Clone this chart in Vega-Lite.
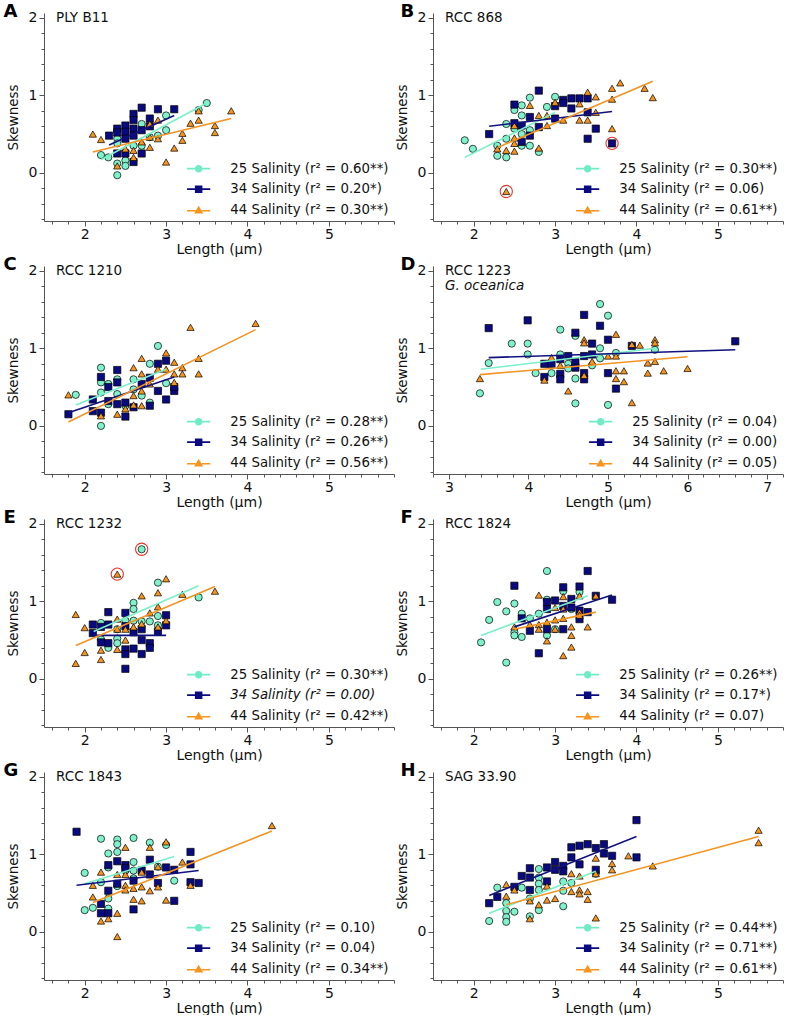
{
"$schema": "https://vega.github.io/schema/vega-lite/v6.json",
"padding": {"left": 3, "top": 2, "right": 0, "bottom": 0},
"config": {
 "font": "DejaVu Sans",
 "view": {"stroke": null},
 "axis": {"grid": false, "domainColor": "#555", "tickColor": "#555", "labelColor": "#111", "titleColor": "#111", "labelFontSize": 14, "titleFontSize": 14, "titleFontWeight": "normal"},
 "title": {"color": "#111"}
},
"datasets": {
"pts": [
{"p":"A","s":"25","x":2.2,"y":0.23},{"p":"A","s":"25","x":2.29,"y":0.2},{"p":"A","s":"25","x":2.4,"y":0.44},{"p":"A","s":"25","x":2.4,"y":0.38},{"p":"A","s":"25","x":2.4,"y":0.12},{"p":"A","s":"25","x":2.4,"y":-0.03},{"p":"A","s":"25","x":2.5,"y":0.16},{"p":"A","s":"25","x":2.5,"y":0.09},{"p":"A","s":"25","x":2.6,"y":0.35},{"p":"A","s":"25","x":2.7,"y":0.63},{"p":"A","s":"25","x":2.7,"y":0.35},{"p":"A","s":"25","x":2.8,"y":0.46},{"p":"A","s":"25","x":2.9,"y":0.48},{"p":"A","s":"25","x":3.0,"y":0.74},{"p":"A","s":"25","x":3.0,"y":0.55},{"p":"A","s":"25","x":3.4,"y":0.81},{"p":"A","s":"25","x":3.5,"y":0.9},
{"p":"A","s":"34","x":2.3,"y":0.48},{"p":"A","s":"34","x":2.4,"y":0.57},{"p":"A","s":"34","x":2.4,"y":0.52},{"p":"A","s":"34","x":2.4,"y":0.25},{"p":"A","s":"34","x":2.5,"y":0.61},{"p":"A","s":"34","x":2.5,"y":0.53},{"p":"A","s":"34","x":2.5,"y":0.44},{"p":"A","s":"34","x":2.5,"y":0.25},{"p":"A","s":"34","x":2.6,"y":0.76},{"p":"A","s":"34","x":2.6,"y":0.68},{"p":"A","s":"34","x":2.6,"y":0.57},{"p":"A","s":"34","x":2.6,"y":0.48},{"p":"A","s":"34","x":2.6,"y":0.14},{"p":"A","s":"34","x":2.7,"y":0.84},{"p":"A","s":"34","x":2.7,"y":0.55},{"p":"A","s":"34","x":2.7,"y":0.25},{"p":"A","s":"34","x":2.8,"y":0.7},{"p":"A","s":"34","x":2.8,"y":0.6},{"p":"A","s":"34","x":2.9,"y":0.82},{"p":"A","s":"34","x":3.1,"y":0.82},
{"p":"A","s":"44","x":2.1,"y":0.5},{"p":"A","s":"44","x":2.2,"y":0.43},{"p":"A","s":"44","x":2.4,"y":0.09},{"p":"A","s":"44","x":2.5,"y":0.31},{"p":"A","s":"44","x":2.6,"y":0.29},{"p":"A","s":"44","x":2.6,"y":0.2},{"p":"A","s":"44","x":2.7,"y":0.4},{"p":"A","s":"44","x":2.8,"y":0.63},{"p":"A","s":"44","x":2.8,"y":0.46},{"p":"A","s":"44","x":2.8,"y":0.33},{"p":"A","s":"44","x":2.9,"y":0.68},{"p":"A","s":"44","x":2.9,"y":0.44},{"p":"A","s":"44","x":3.0,"y":0.14},{"p":"A","s":"44","x":3.1,"y":0.32},{"p":"A","s":"44","x":3.2,"y":0.51},{"p":"A","s":"44","x":3.2,"y":0.42},{"p":"A","s":"44","x":3.3,"y":0.64},{"p":"A","s":"44","x":3.4,"y":0.68},{"p":"A","s":"44","x":3.4,"y":0.8},{"p":"A","s":"44","x":3.6,"y":0.61},{"p":"A","s":"44","x":3.6,"y":0.52},{"p":"A","s":"44","x":3.8,"y":0.8},
{"p":"B","s":"25","x":1.89,"y":0.42},{"p":"B","s":"25","x":1.99,"y":0.31},{"p":"B","s":"25","x":2.29,"y":0.35},{"p":"B","s":"25","x":2.29,"y":0.22},{"p":"B","s":"25","x":2.4,"y":0.2},{"p":"B","s":"25","x":2.4,"y":0.63},{"p":"B","s":"25","x":2.4,"y":0.44},{"p":"B","s":"25","x":2.5,"y":0.81},{"p":"B","s":"25","x":2.5,"y":0.57},{"p":"B","s":"25","x":2.59,"y":0.87},{"p":"B","s":"25","x":2.59,"y":0.74},{"p":"B","s":"25","x":2.59,"y":0.5},{"p":"B","s":"25","x":2.59,"y":0.35},{"p":"B","s":"25","x":2.69,"y":0.97},{"p":"B","s":"25","x":2.69,"y":0.55},{"p":"B","s":"25","x":2.69,"y":0.35},{"p":"B","s":"25","x":2.8,"y":0.27},{"p":"B","s":"25","x":2.9,"y":0.85},{"p":"B","s":"25","x":3.0,"y":0.98},
{"p":"B","s":"34","x":2.19,"y":0.5},{"p":"B","s":"34","x":2.5,"y":0.88},{"p":"B","s":"34","x":2.5,"y":0.64},{"p":"B","s":"34","x":2.59,"y":0.61},{"p":"B","s":"34","x":2.59,"y":0.4},{"p":"B","s":"34","x":2.69,"y":0.72},{"p":"B","s":"34","x":2.69,"y":0.48},{"p":"B","s":"34","x":2.8,"y":1.06},{"p":"B","s":"34","x":2.8,"y":0.59},{"p":"B","s":"34","x":3.0,"y":0.7},{"p":"B","s":"34","x":3.0,"y":0.86},{"p":"B","s":"34","x":3.1,"y":0.94},{"p":"B","s":"34","x":3.1,"y":0.9},{"p":"B","s":"34","x":3.2,"y":0.96},{"p":"B","s":"34","x":3.2,"y":0.83},{"p":"B","s":"34","x":3.3,"y":0.96},{"p":"B","s":"34","x":3.4,"y":0.96},{"p":"B","s":"34","x":3.4,"y":0.78},{"p":"B","s":"34","x":3.4,"y":0.44},{"p":"B","s":"34","x":3.5,"y":0.57},{"p":"B","s":"34","x":3.7,"y":0.38},
{"p":"B","s":"44","x":2.29,"y":0.31},{"p":"B","s":"44","x":2.4,"y":0.29},{"p":"B","s":"44","x":2.4,"y":-0.24},{"p":"B","s":"44","x":2.5,"y":0.61},{"p":"B","s":"44","x":2.5,"y":0.45},{"p":"B","s":"44","x":2.5,"y":0.38},{"p":"B","s":"44","x":2.5,"y":0.28},{"p":"B","s":"44","x":2.69,"y":0.87},{"p":"B","s":"44","x":2.8,"y":0.74},{"p":"B","s":"44","x":2.8,"y":0.32},{"p":"B","s":"44","x":2.9,"y":0.74},{"p":"B","s":"44","x":2.9,"y":0.61},{"p":"B","s":"44","x":3.0,"y":0.91},{"p":"B","s":"44","x":3.1,"y":0.68},{"p":"B","s":"44","x":3.3,"y":0.89},{"p":"B","s":"44","x":3.3,"y":0.68},{"p":"B","s":"44","x":3.4,"y":1.04},{"p":"B","s":"44","x":3.4,"y":0.68},{"p":"B","s":"44","x":3.5,"y":0.98},{"p":"B","s":"44","x":3.5,"y":0.78},{"p":"B","s":"44","x":3.7,"y":1.09},{"p":"B","s":"44","x":3.7,"y":0.95},{"p":"B","s":"44","x":3.7,"y":0.57},{"p":"B","s":"44","x":3.8,"y":1.16},{"p":"B","s":"44","x":4.1,"y":1.09},{"p":"B","s":"44","x":4.2,"y":0.97},
{"p":"C","s":"25","x":1.89,"y":0.4},{"p":"C","s":"25","x":2.2,"y":0.75},{"p":"C","s":"25","x":2.2,"y":0.56},{"p":"C","s":"25","x":2.2,"y":0.43},{"p":"C","s":"25","x":2.2,"y":0.0},{"p":"C","s":"25","x":2.29,"y":0.54},{"p":"C","s":"25","x":2.29,"y":0.28},{"p":"C","s":"25","x":2.4,"y":0.6},{"p":"C","s":"25","x":2.4,"y":0.41},{"p":"C","s":"25","x":2.5,"y":0.26},{"p":"C","s":"25","x":2.6,"y":0.6},{"p":"C","s":"25","x":2.6,"y":0.47},{"p":"C","s":"25","x":2.7,"y":0.39},{"p":"C","s":"25","x":2.8,"y":0.8},{"p":"C","s":"25","x":2.8,"y":0.3},{"p":"C","s":"25","x":2.9,"y":1.03},{"p":"C","s":"25","x":3.0,"y":0.55},
{"p":"C","s":"34","x":1.8,"y":0.15},{"p":"C","s":"34","x":2.1,"y":0.34},{"p":"C","s":"34","x":2.1,"y":0.19},{"p":"C","s":"34","x":2.2,"y":0.63},{"p":"C","s":"34","x":2.2,"y":0.17},{"p":"C","s":"34","x":2.29,"y":0.5},{"p":"C","s":"34","x":2.29,"y":0.32},{"p":"C","s":"34","x":2.4,"y":0.72},{"p":"C","s":"34","x":2.4,"y":0.56},{"p":"C","s":"34","x":2.4,"y":0.28},{"p":"C","s":"34","x":2.5,"y":0.3},{"p":"C","s":"34","x":2.5,"y":0.12},{"p":"C","s":"34","x":2.6,"y":0.24},{"p":"C","s":"34","x":2.7,"y":0.54},{"p":"C","s":"34","x":2.8,"y":0.62},{"p":"C","s":"34","x":2.8,"y":0.26},{"p":"C","s":"34","x":2.9,"y":0.8},{"p":"C","s":"34","x":2.9,"y":0.45},{"p":"C","s":"34","x":3.0,"y":0.84},{"p":"C","s":"34","x":3.0,"y":0.34},{"p":"C","s":"34","x":3.1,"y":0.45},{"p":"C","s":"34","x":3.1,"y":0.5},
{"p":"C","s":"44","x":1.8,"y":0.4},{"p":"C","s":"44","x":2.2,"y":0.13},{"p":"C","s":"44","x":2.4,"y":0.15},{"p":"C","s":"44","x":2.5,"y":0.22},{"p":"C","s":"44","x":2.6,"y":0.75},{"p":"C","s":"44","x":2.6,"y":0.39},{"p":"C","s":"44","x":2.6,"y":0.27},{"p":"C","s":"44","x":2.7,"y":0.87},{"p":"C","s":"44","x":2.7,"y":0.67},{"p":"C","s":"44","x":2.7,"y":0.45},{"p":"C","s":"44","x":2.7,"y":0.26},{"p":"C","s":"44","x":2.8,"y":0.54},{"p":"C","s":"44","x":2.9,"y":0.73},{"p":"C","s":"44","x":3.0,"y":0.94},{"p":"C","s":"44","x":3.0,"y":0.73},{"p":"C","s":"44","x":3.1,"y":0.82},{"p":"C","s":"44","x":3.1,"y":0.67},{"p":"C","s":"44","x":3.1,"y":0.56},{"p":"C","s":"44","x":3.2,"y":0.75},{"p":"C","s":"44","x":3.2,"y":0.67},{"p":"C","s":"44","x":3.3,"y":1.27},{"p":"C","s":"44","x":3.4,"y":0.87},{"p":"C","s":"44","x":3.4,"y":0.67},{"p":"C","s":"44","x":4.1,"y":1.32},
{"p":"D","s":"25","x":3.39,"y":0.42},{"p":"D","s":"25","x":3.5,"y":0.81},{"p":"D","s":"25","x":3.79,"y":1.06},{"p":"D","s":"25","x":3.99,"y":1.06},{"p":"D","s":"25","x":3.99,"y":0.92},{"p":"D","s":"25","x":4.09,"y":0.68},{"p":"D","s":"25","x":4.29,"y":0.68},{"p":"D","s":"25","x":4.4,"y":1.24},{"p":"D","s":"25","x":4.4,"y":0.92},{"p":"D","s":"25","x":4.5,"y":0.8},{"p":"D","s":"25","x":4.5,"y":0.74},{"p":"D","s":"25","x":4.59,"y":1.16},{"p":"D","s":"25","x":4.59,"y":0.61},{"p":"D","s":"25","x":4.59,"y":0.29},{"p":"D","s":"25","x":4.8,"y":0.78},{"p":"D","s":"25","x":4.9,"y":1.57},{"p":"D","s":"25","x":4.9,"y":1.0},{"p":"D","s":"25","x":4.9,"y":0.87},{"p":"D","s":"25","x":5.0,"y":1.42},{"p":"D","s":"25","x":5.0,"y":0.27},{"p":"D","s":"25","x":5.1,"y":0.94},{"p":"D","s":"25","x":5.59,"y":0.98},
{"p":"D","s":"34","x":3.5,"y":1.26},{"p":"D","s":"34","x":3.99,"y":1.36},{"p":"D","s":"34","x":4.2,"y":0.8},{"p":"D","s":"34","x":4.2,"y":0.63},{"p":"D","s":"34","x":4.29,"y":0.8},{"p":"D","s":"34","x":4.4,"y":0.86},{"p":"D","s":"34","x":4.4,"y":0.67},{"p":"D","s":"34","x":4.4,"y":0.6},{"p":"D","s":"34","x":4.5,"y":0.9},{"p":"D","s":"34","x":4.59,"y":1.2},{"p":"D","s":"34","x":4.59,"y":0.82},{"p":"D","s":"34","x":4.59,"y":0.75},{"p":"D","s":"34","x":4.7,"y":1.43},{"p":"D","s":"34","x":4.7,"y":0.9},{"p":"D","s":"34","x":4.7,"y":0.68},{"p":"D","s":"34","x":4.7,"y":0.6},{"p":"D","s":"34","x":4.8,"y":1.06},{"p":"D","s":"34","x":4.8,"y":0.92},{"p":"D","s":"34","x":4.9,"y":1.29},{"p":"D","s":"34","x":5.0,"y":1.11},{"p":"D","s":"34","x":5.0,"y":0.68},{"p":"D","s":"34","x":5.1,"y":0.48},{"p":"D","s":"34","x":5.3,"y":1.03},{"p":"D","s":"34","x":6.6,"y":1.09},
{"p":"D","s":"44","x":3.39,"y":0.61},{"p":"D","s":"44","x":4.2,"y":0.59},{"p":"D","s":"44","x":4.29,"y":0.88},{"p":"D","s":"44","x":4.4,"y":0.78},{"p":"D","s":"44","x":4.5,"y":0.45},{"p":"D","s":"44","x":4.7,"y":1.11},{"p":"D","s":"44","x":4.7,"y":1.07},{"p":"D","s":"44","x":4.7,"y":0.65},{"p":"D","s":"44","x":4.8,"y":0.83},{"p":"D","s":"44","x":5.0,"y":0.9},{"p":"D","s":"44","x":5.1,"y":1.18},{"p":"D","s":"44","x":5.1,"y":0.9},{"p":"D","s":"44","x":5.1,"y":0.71},{"p":"D","s":"44","x":5.1,"y":0.61},{"p":"D","s":"44","x":5.2,"y":0.71},{"p":"D","s":"44","x":5.2,"y":0.57},{"p":"D","s":"44","x":5.3,"y":1.05},{"p":"D","s":"44","x":5.3,"y":0.3},{"p":"D","s":"44","x":5.4,"y":1.04},{"p":"D","s":"44","x":5.5,"y":0.81},{"p":"D","s":"44","x":5.5,"y":0.68},{"p":"D","s":"44","x":5.59,"y":1.11},{"p":"D","s":"44","x":5.59,"y":1.07},{"p":"D","s":"44","x":5.59,"y":0.83},{"p":"D","s":"44","x":5.7,"y":0.71},{"p":"D","s":"44","x":6.0,"y":0.74},
{"p":"E","s":"25","x":2.2,"y":0.72},{"p":"E","s":"25","x":2.2,"y":0.51},{"p":"E","s":"25","x":2.29,"y":0.4},{"p":"E","s":"25","x":2.4,"y":0.64},{"p":"E","s":"25","x":2.4,"y":0.52},{"p":"E","s":"25","x":2.4,"y":0.46},{"p":"E","s":"25","x":2.5,"y":0.75},{"p":"E","s":"25","x":2.6,"y":0.98},{"p":"E","s":"25","x":2.6,"y":0.9},{"p":"E","s":"25","x":2.6,"y":0.75},{"p":"E","s":"25","x":2.7,"y":1.67},{"p":"E","s":"25","x":2.7,"y":0.74},{"p":"E","s":"25","x":2.8,"y":0.74},{"p":"E","s":"25","x":2.9,"y":1.24},{"p":"E","s":"25","x":2.9,"y":0.81},{"p":"E","s":"25","x":2.9,"y":0.69},{"p":"E","s":"25","x":3.4,"y":1.05},
{"p":"E","s":"34","x":2.1,"y":0.7},{"p":"E","s":"34","x":2.1,"y":0.59},{"p":"E","s":"34","x":2.2,"y":0.67},{"p":"E","s":"34","x":2.2,"y":0.47},{"p":"E","s":"34","x":2.29,"y":0.86},{"p":"E","s":"34","x":2.29,"y":0.7},{"p":"E","s":"34","x":2.29,"y":0.46},{"p":"E","s":"34","x":2.5,"y":0.85},{"p":"E","s":"34","x":2.5,"y":0.68},{"p":"E","s":"34","x":2.5,"y":0.38},{"p":"E","s":"34","x":2.5,"y":0.32},{"p":"E","s":"34","x":2.5,"y":0.13},{"p":"E","s":"34","x":2.6,"y":0.6},{"p":"E","s":"34","x":2.6,"y":0.39},{"p":"E","s":"34","x":2.7,"y":0.64},{"p":"E","s":"34","x":2.7,"y":0.5},{"p":"E","s":"34","x":2.7,"y":0.32},{"p":"E","s":"34","x":2.8,"y":0.46},{"p":"E","s":"34","x":2.8,"y":0.4},{"p":"E","s":"34","x":2.9,"y":0.61},{"p":"E","s":"34","x":3.0,"y":0.82},{"p":"E","s":"34","x":3.0,"y":0.69},
{"p":"E","s":"44","x":1.89,"y":0.83},{"p":"E","s":"44","x":1.89,"y":0.2},{"p":"E","s":"44","x":2.0,"y":0.66},{"p":"E","s":"44","x":2.0,"y":0.34},{"p":"E","s":"44","x":2.2,"y":0.37},{"p":"E","s":"44","x":2.2,"y":0.25},{"p":"E","s":"44","x":2.4,"y":1.35},{"p":"E","s":"44","x":2.4,"y":0.77},{"p":"E","s":"44","x":2.4,"y":0.64},{"p":"E","s":"44","x":2.4,"y":0.38},{"p":"E","s":"44","x":2.5,"y":0.64},{"p":"E","s":"44","x":2.5,"y":0.5},{"p":"E","s":"44","x":2.6,"y":0.67},{"p":"E","s":"44","x":2.7,"y":1.07},{"p":"E","s":"44","x":2.7,"y":0.71},{"p":"E","s":"44","x":2.8,"y":0.85},{"p":"E","s":"44","x":2.9,"y":1.11},{"p":"E","s":"44","x":2.9,"y":0.93},{"p":"E","s":"44","x":2.9,"y":0.67},{"p":"E","s":"44","x":3.0,"y":1.29},{"p":"E","s":"44","x":3.0,"y":0.75},{"p":"E","s":"44","x":3.2,"y":1.09},{"p":"E","s":"44","x":3.6,"y":1.13},
{"p":"F","s":"25","x":2.09,"y":0.47},{"p":"F","s":"25","x":2.19,"y":0.76},{"p":"F","s":"25","x":2.29,"y":0.99},{"p":"F","s":"25","x":2.4,"y":0.87},{"p":"F","s":"25","x":2.4,"y":0.21},{"p":"F","s":"25","x":2.5,"y":0.97},{"p":"F","s":"25","x":2.5,"y":0.6},{"p":"F","s":"25","x":2.5,"y":0.56},{"p":"F","s":"25","x":2.59,"y":0.84},{"p":"F","s":"25","x":2.59,"y":0.54},{"p":"F","s":"25","x":2.69,"y":0.78},{"p":"F","s":"25","x":2.8,"y":0.84},{"p":"F","s":"25","x":2.9,"y":1.39},{"p":"F","s":"25","x":2.9,"y":1.02},{"p":"F","s":"25","x":2.9,"y":0.56},{"p":"F","s":"25","x":3.0,"y":0.64},{"p":"F","s":"25","x":3.1,"y":1.13},{"p":"F","s":"25","x":3.2,"y":0.9},{"p":"F","s":"25","x":3.3,"y":1.12},
{"p":"F","s":"34","x":2.5,"y":1.2},{"p":"F","s":"34","x":2.59,"y":0.78},{"p":"F","s":"34","x":2.69,"y":0.62},{"p":"F","s":"34","x":2.8,"y":0.33},{"p":"F","s":"34","x":2.9,"y":0.99},{"p":"F","s":"34","x":2.9,"y":0.9},{"p":"F","s":"34","x":2.9,"y":0.64},{"p":"F","s":"34","x":3.0,"y":1.01},{"p":"F","s":"34","x":3.1,"y":1.18},{"p":"F","s":"34","x":3.1,"y":0.94},{"p":"F","s":"34","x":3.1,"y":0.64},{"p":"F","s":"34","x":3.2,"y":1.03},{"p":"F","s":"34","x":3.2,"y":0.92},{"p":"F","s":"34","x":3.3,"y":1.19},{"p":"F","s":"34","x":3.3,"y":0.88},{"p":"F","s":"34","x":3.3,"y":0.77},{"p":"F","s":"34","x":3.4,"y":1.39},{"p":"F","s":"34","x":3.4,"y":0.86},{"p":"F","s":"34","x":3.5,"y":1.07},{"p":"F","s":"34","x":3.7,"y":1.02},
{"p":"F","s":"44","x":2.5,"y":0.67},{"p":"F","s":"44","x":2.69,"y":0.7},{"p":"F","s":"44","x":2.8,"y":1.08},{"p":"F","s":"44","x":2.8,"y":0.7},{"p":"F","s":"44","x":2.8,"y":0.64},{"p":"F","s":"44","x":2.9,"y":0.73},{"p":"F","s":"44","x":2.9,"y":0.49},{"p":"F","s":"44","x":3.0,"y":0.92},{"p":"F","s":"44","x":3.0,"y":0.76},{"p":"F","s":"44","x":3.0,"y":0.64},{"p":"F","s":"44","x":3.1,"y":1.06},{"p":"F","s":"44","x":3.1,"y":0.9},{"p":"F","s":"44","x":3.1,"y":0.78},{"p":"F","s":"44","x":3.1,"y":0.3},{"p":"F","s":"44","x":3.2,"y":0.67},{"p":"F","s":"44","x":3.2,"y":0.56},{"p":"F","s":"44","x":3.2,"y":0.41},{"p":"F","s":"44","x":3.3,"y":1.07},{"p":"F","s":"44","x":3.3,"y":0.86},{"p":"F","s":"44","x":3.3,"y":0.82},{"p":"F","s":"44","x":3.4,"y":0.67},{"p":"F","s":"44","x":3.5,"y":1.07},
{"p":"G","s":"25","x":2.0,"y":0.76},{"p":"G","s":"25","x":2.0,"y":0.28},{"p":"G","s":"25","x":2.1,"y":0.31},{"p":"G","s":"25","x":2.2,"y":1.2},{"p":"G","s":"25","x":2.2,"y":0.64},{"p":"G","s":"25","x":2.29,"y":1.01},{"p":"G","s":"25","x":2.29,"y":0.83},{"p":"G","s":"25","x":2.29,"y":0.43},{"p":"G","s":"25","x":2.29,"y":0.3},{"p":"G","s":"25","x":2.4,"y":1.19},{"p":"G","s":"25","x":2.4,"y":1.13},{"p":"G","s":"25","x":2.4,"y":1.03},{"p":"G","s":"25","x":2.4,"y":0.59},{"p":"G","s":"25","x":2.5,"y":0.79},{"p":"G","s":"25","x":2.6,"y":1.21},{"p":"G","s":"25","x":2.6,"y":0.9},{"p":"G","s":"25","x":2.6,"y":0.79},{"p":"G","s":"25","x":2.6,"y":0.69},{"p":"G","s":"25","x":2.8,"y":1.15},{"p":"G","s":"25","x":2.9,"y":0.84},{"p":"G","s":"25","x":3.0,"y":1.12},{"p":"G","s":"25","x":3.1,"y":0.66},
{"p":"G","s":"34","x":1.9,"y":1.29},{"p":"G","s":"34","x":2.2,"y":0.36},{"p":"G","s":"34","x":2.2,"y":0.24},{"p":"G","s":"34","x":2.29,"y":0.86},{"p":"G","s":"34","x":2.29,"y":0.53},{"p":"G","s":"34","x":2.29,"y":0.24},{"p":"G","s":"34","x":2.4,"y":0.91},{"p":"G","s":"34","x":2.4,"y":0.62},{"p":"G","s":"34","x":2.5,"y":0.86},{"p":"G","s":"34","x":2.5,"y":0.82},{"p":"G","s":"34","x":2.6,"y":0.29},{"p":"G","s":"34","x":2.6,"y":0.66},{"p":"G","s":"34","x":2.7,"y":0.79},{"p":"G","s":"34","x":2.8,"y":0.93},{"p":"G","s":"34","x":2.8,"y":0.74},{"p":"G","s":"34","x":2.9,"y":0.63},{"p":"G","s":"34","x":3.0,"y":0.83},{"p":"G","s":"34","x":3.1,"y":0.8},{"p":"G","s":"34","x":3.1,"y":0.4},{"p":"G","s":"34","x":3.3,"y":1.03},{"p":"G","s":"34","x":3.3,"y":0.87},{"p":"G","s":"34","x":3.3,"y":0.64},{"p":"G","s":"34","x":3.4,"y":0.63},
{"p":"G","s":"44","x":2.1,"y":0.6},{"p":"G","s":"44","x":2.1,"y":0.45},{"p":"G","s":"44","x":2.2,"y":0.77},{"p":"G","s":"44","x":2.2,"y":0.14},{"p":"G","s":"44","x":2.29,"y":0.17},{"p":"G","s":"44","x":2.4,"y":0.74},{"p":"G","s":"44","x":2.4,"y":0.24},{"p":"G","s":"44","x":2.4,"y":-0.06},{"p":"G","s":"44","x":2.5,"y":1.09},{"p":"G","s":"44","x":2.5,"y":0.74},{"p":"G","s":"44","x":2.5,"y":0.6},{"p":"G","s":"44","x":2.5,"y":0.54},{"p":"G","s":"44","x":2.6,"y":0.56},{"p":"G","s":"44","x":2.6,"y":0.42},{"p":"G","s":"44","x":2.7,"y":0.77},{"p":"G","s":"44","x":2.7,"y":0.58},{"p":"G","s":"44","x":2.7,"y":0.4},{"p":"G","s":"44","x":2.8,"y":1.09},{"p":"G","s":"44","x":2.8,"y":0.53},{"p":"G","s":"44","x":2.9,"y":0.84},{"p":"G","s":"44","x":2.9,"y":0.58},{"p":"G","s":"44","x":3.0,"y":1.16},{"p":"G","s":"44","x":3.0,"y":0.41},{"p":"G","s":"44","x":3.2,"y":0.9},{"p":"G","s":"44","x":3.3,"y":0.6},{"p":"G","s":"44","x":4.3,"y":1.37},
{"p":"H","s":"25","x":2.19,"y":0.14},{"p":"H","s":"25","x":2.29,"y":0.57},{"p":"H","s":"25","x":2.4,"y":0.37},{"p":"H","s":"25","x":2.4,"y":0.27},{"p":"H","s":"25","x":2.4,"y":0.19},{"p":"H","s":"25","x":2.4,"y":0.13},{"p":"H","s":"25","x":2.5,"y":0.26},{"p":"H","s":"25","x":2.59,"y":0.57},{"p":"H","s":"25","x":2.69,"y":0.43},{"p":"H","s":"25","x":2.69,"y":0.2},{"p":"H","s":"25","x":2.8,"y":0.81},{"p":"H","s":"25","x":2.8,"y":0.7},{"p":"H","s":"25","x":2.8,"y":0.62},{"p":"H","s":"25","x":2.8,"y":0.54},{"p":"H","s":"25","x":2.8,"y":0.28},{"p":"H","s":"25","x":3.1,"y":0.65},{"p":"H","s":"25","x":3.1,"y":0.53},{"p":"H","s":"25","x":3.1,"y":0.33},{"p":"H","s":"25","x":3.2,"y":0.63},{"p":"H","s":"25","x":3.5,"y":0.75},
{"p":"H","s":"34","x":2.19,"y":0.37},{"p":"H","s":"34","x":2.29,"y":0.45},{"p":"H","s":"34","x":2.5,"y":0.58},{"p":"H","s":"34","x":2.59,"y":0.72},{"p":"H","s":"34","x":2.69,"y":0.82},{"p":"H","s":"34","x":2.69,"y":0.7},{"p":"H","s":"34","x":2.69,"y":0.54},{"p":"H","s":"34","x":2.9,"y":0.83},{"p":"H","s":"34","x":2.9,"y":0.65},{"p":"H","s":"34","x":3.0,"y":0.9},{"p":"H","s":"34","x":3.0,"y":0.8},{"p":"H","s":"34","x":3.1,"y":0.85},{"p":"H","s":"34","x":3.1,"y":0.78},{"p":"H","s":"34","x":3.2,"y":1.09},{"p":"H","s":"34","x":3.2,"y":0.96},{"p":"H","s":"34","x":3.3,"y":1.11},{"p":"H","s":"34","x":3.3,"y":0.87},{"p":"H","s":"34","x":3.4,"y":1.13},{"p":"H","s":"34","x":3.5,"y":1.08},{"p":"H","s":"34","x":3.5,"y":0.8},{"p":"H","s":"34","x":3.6,"y":1.13},{"p":"H","s":"34","x":3.6,"y":1.01},{"p":"H","s":"34","x":3.7,"y":0.98},{"p":"H","s":"34","x":4.0,"y":1.44},{"p":"H","s":"34","x":4.0,"y":0.96},
{"p":"H","s":"44","x":2.4,"y":0.61},{"p":"H","s":"44","x":2.4,"y":0.46},{"p":"H","s":"44","x":2.5,"y":0.54},{"p":"H","s":"44","x":2.69,"y":0.4},{"p":"H","s":"44","x":2.69,"y":0.17},{"p":"H","s":"44","x":2.8,"y":0.35},{"p":"H","s":"44","x":2.9,"y":0.59},{"p":"H","s":"44","x":2.9,"y":0.41},{"p":"H","s":"44","x":3.0,"y":0.43},{"p":"H","s":"44","x":3.2,"y":0.75},{"p":"H","s":"44","x":3.2,"y":0.52},{"p":"H","s":"44","x":3.3,"y":0.72},{"p":"H","s":"44","x":3.3,"y":0.54},{"p":"H","s":"44","x":3.3,"y":0.49},{"p":"H","s":"44","x":3.4,"y":0.52},{"p":"H","s":"44","x":3.4,"y":0.42},{"p":"H","s":"44","x":3.5,"y":0.95},{"p":"H","s":"44","x":3.5,"y":0.75},{"p":"H","s":"44","x":3.5,"y":0.18},{"p":"H","s":"44","x":3.7,"y":0.88},{"p":"H","s":"44","x":3.7,"y":0.8},{"p":"H","s":"44","x":3.9,"y":0.98},{"p":"H","s":"44","x":4.2,"y":0.85},{"p":"H","s":"44","x":5.5,"y":1.31},{"p":"H","s":"44","x":5.5,"y":1.15}
],
"lines": [
{"p":"A","s":"25","x":2.2,"y":0.17},{"p":"A","s":"25","x":3.5,"y":0.9},{"p":"A","s":"34","x":2.3,"y":0.36},{"p":"A","s":"34","x":3.1,"y":0.74},{"p":"A","s":"44","x":2.1,"y":0.27},{"p":"A","s":"44","x":3.8,"y":0.7},
{"p":"B","s":"25","x":1.89,"y":0.2},{"p":"B","s":"25","x":3.0,"y":0.78},{"p":"B","s":"34","x":2.19,"y":0.6},{"p":"B","s":"34","x":3.7,"y":0.79},{"p":"B","s":"44","x":2.3,"y":0.33},{"p":"B","s":"44","x":4.2,"y":1.18},
{"p":"C","s":"25","x":1.89,"y":0.27},{"p":"C","s":"25","x":3.0,"y":0.73},{"p":"C","s":"34","x":1.8,"y":0.17},{"p":"C","s":"34","x":3.1,"y":0.63},{"p":"C","s":"44","x":1.8,"y":0.05},{"p":"C","s":"44","x":4.1,"y":1.24},
{"p":"D","s":"25","x":3.4,"y":0.73},{"p":"D","s":"25","x":5.59,"y":1.0},{"p":"D","s":"34","x":3.5,"y":0.88},{"p":"D","s":"34","x":6.6,"y":0.98},{"p":"D","s":"44","x":3.39,"y":0.66},{"p":"D","s":"44","x":6.0,"y":0.89},
{"p":"E","s":"25","x":2.11,"y":0.61},{"p":"E","s":"25","x":3.4,"y":1.2},{"p":"E","s":"34","x":2.1,"y":0.56},{"p":"E","s":"34","x":3.0,"y":0.56},{"p":"E","s":"44","x":1.89,"y":0.43},{"p":"E","s":"44","x":3.6,"y":1.19},
{"p":"F","s":"25","x":2.09,"y":0.56},{"p":"F","s":"25","x":3.4,"y":1.07},{"p":"F","s":"34","x":2.5,"y":0.67},{"p":"F","s":"34","x":3.7,"y":1.08},{"p":"F","s":"44","x":2.5,"y":0.64},{"p":"F","s":"44","x":3.5,"y":0.86},
{"p":"G","s":"25","x":2.0,"y":0.62},{"p":"G","s":"25","x":3.1,"y":0.97},{"p":"G","s":"34","x":1.9,"y":0.6},{"p":"G","s":"34","x":3.4,"y":0.79},{"p":"G","s":"44","x":2.1,"y":0.38},{"p":"G","s":"44","x":4.3,"y":1.3},
{"p":"H","s":"25","x":2.19,"y":0.24},{"p":"H","s":"25","x":3.5,"y":0.78},{"p":"H","s":"34","x":2.19,"y":0.47},{"p":"H","s":"34","x":4.0,"y":1.23},{"p":"H","s":"44","x":2.4,"y":0.35},{"p":"H","s":"44","x":5.5,"y":1.23}
],
"out": [
{"p":"B","x":2.4,"y":-0.24},{"p":"B","x":3.7,"y":0.38},{"p":"E","x":2.7,"y":1.67},{"p":"E","x":2.4,"y":1.35}
]
},
"columns": 2,
"spacing": {"row": 45, "column": 39},
"bounds": "flush",
"resolve": {"scale": {"fill": "independent", "shape": "independent", "color": "independent"}, "legend": {"fill": "independent", "shape": "independent"}},
"concat": [
  {"width": 350, "height": 208,
   "title": {"text": "PLY B11", "anchor": "start", "frame": "group", "offset": -22, "dx": 12, "fontSize": 13.5, "fontWeight": "normal", "baseline": "top"},
   "resolve": {"axis": {"x": "independent", "y": "independent"}, "scale": {"fill": "independent", "shape": "independent"}},
   "layer": [
    {"data": {"name": "pts"}, "transform": [{"filter": "datum.p == 'A'"}],
     "mark": {"type": "point", "filled": true, "stroke": "black", "strokeWidth": 0.7, "size": 52, "opacity": 1},
     "encoding": {
      "x": {"field": "x", "type": "quantitative", "scale": {"domain": [1.5, 5.8], "nice": false, "zero": false}, "axis": {"orient": "bottom", "values": [2,3,4,5], "tickSize": 5, "labelPadding": 1, "title": "Length (µm)", "titlePadding": 1}},
      "y": {"field": "y", "type": "quantitative", "scale": {"domain": [-0.62, 2.06], "nice": false, "zero": false}, "axis": {"orient": "left", "values": [0,1,2], "tickSize": 5, "labelPadding": 2, "title": "Skewness", "titleFontSize": 13.5, "titlePadding": 8}},
      "fill": {"field": "s", "type": "nominal", "scale": {"domain": ["25","34","44"], "range": ["#7ff2cc","#0a0a80","#f7941d"]}, "legend": null},
      "shape": {"field": "s", "type": "nominal", "scale": {"domain": ["25","34","44"], "range": ["circle","square","triangle-up"]}, "legend": null}
     }},
    {"data": {"name": "lines"}, "transform": [{"filter": "datum.p == 'A'"}],
     "mark": {"type": "line", "strokeWidth": 1.6},
     "encoding": {
      "x": {"field": "x", "type": "quantitative", "scale": {"domain": [1.5, 5.8], "nice": false, "zero": false}, "axis": {"orient": "bottom", "values": [1.6,1.8,2,2.2,2.4,2.6,2.8,3,3.2,3.4,3.6,3.8,4,4.2,4.4,4.6,4.8,5,5.2,5.4,5.6,5.8], "labels": false, "domain": false, "tickSize": 3, "title": null}},
      "y": {"field": "y", "type": "quantitative", "scale": {"domain": [-0.62, 2.06], "nice": false, "zero": false}, "axis": {"orient": "left", "values": [-0.6,-0.4,-0.2,0,0.2,0.4,0.6,0.8,1,1.2,1.4,1.6,1.8,2], "labels": false, "domain": false, "tickSize": 3, "title": "A", "titleAngle": 0, "titleFontSize": 18, "titleFontWeight": "bold", "titleColor": "#000", "titleAlign": "left", "titleBaseline": "alphabetic", "titleX": -41, "titleY": 3}},
      "color": {"field": "s", "type": "nominal", "scale": {"domain": ["25","34","44"], "range": ["#79f0c9","#12127e","#f39322"]}, "legend": null}
     }},
    {"data": {"name": "lines"}, "transform": [{"filter": "datum.p == 'A'"}],
     "mark": {"type": "point", "filled": true, "opacity": 0, "size": 56},
     "encoding": {
      "x": {"field": "x", "type": "quantitative", "scale": {"domain": [1.5, 5.8], "nice": false, "zero": false}, "axis": null},
      "y": {"field": "y", "type": "quantitative", "scale": {"domain": [-0.62, 2.06], "nice": false, "zero": false}, "axis": null},
      "fill": {"field": "s", "type": "nominal", "scale": {"domain": ["25","34","44"], "range": ["#6fecc4","#0a0a80","#f7941d"]},
       "legend": {"orient": "bottom-right", "offset": 5, "title": null, "padding": 0, "labelFontSize": 13.3, "labelColor": "#111", "symbolSize": 56, "symbolOpacity": 1, "symbolStrokeWidth": 0, "rowPadding": 6.5, "symbolOffset": 7, "labelOffset": 25, "labelLimit": 400,
        "labelExpr": "datum.value == '25' ? '25 Salinity (r² = 0.60**)' : datum.value == '34' ? '34 Salinity (r² = 0.20*)' : '44 Salinity (r² = 0.30**)'"}},
      "shape": {"field": "s", "type": "nominal", "scale": {"domain": ["25","34","44"], "range": ["M-3.1,-0.22H-1V0.22H-3.1Z M1,-0.22H3.1V0.22H1Z M-1,0A1,1,0,1,0,1,0A1,1,0,1,0,-1,0Z", "M-3.1,-0.22H-1V0.22H-3.1Z M1,-0.22H3.1V0.22H1Z M-1,-1H1V1H-1Z", "M-3.1,0.08H-0.8V0.52H-3.1Z M0.8,0.08H3.1V0.52H0.8Z M0,-1.05L1.2,1H-1.2Z"]},
       "legend": {"orient": "bottom-right", "offset": 5, "title": null, "padding": 0, "labelFontSize": 13.3, "labelColor": "#111", "symbolSize": 56, "symbolOpacity": 1, "symbolStrokeWidth": 0, "rowPadding": 6.5, "symbolOffset": 7, "labelOffset": 25, "labelLimit": 400,
        "labelExpr": "datum.value == '25' ? '25 Salinity (r² = 0.60**)' : datum.value == '34' ? '34 Salinity (r² = 0.20*)' : '44 Salinity (r² = 0.30**)'"}}
     }}
   ]},
  {"width": 350, "height": 208,
   "title": {"text": "RCC 868", "anchor": "start", "frame": "group", "offset": -22, "dx": 12, "fontSize": 13.5, "fontWeight": "normal", "baseline": "top"},
   "resolve": {"axis": {"x": "independent", "y": "independent"}, "scale": {"fill": "independent", "shape": "independent"}},
   "layer": [
    {"data": {"name": "pts"}, "transform": [{"filter": "datum.p == 'B'"}],
     "mark": {"type": "point", "filled": true, "stroke": "black", "strokeWidth": 0.7, "size": 52, "opacity": 1},
     "encoding": {
      "x": {"field": "x", "type": "quantitative", "scale": {"domain": [1.5, 5.8], "nice": false, "zero": false}, "axis": {"orient": "bottom", "values": [2,3,4,5], "tickSize": 5, "labelPadding": 1, "title": "Length (µm)", "titlePadding": 1}},
      "y": {"field": "y", "type": "quantitative", "scale": {"domain": [-0.62, 2.06], "nice": false, "zero": false}, "axis": {"orient": "left", "values": [0,1,2], "tickSize": 5, "labelPadding": 2, "title": "Skewness", "titleFontSize": 13.5, "titlePadding": 8}},
      "fill": {"field": "s", "type": "nominal", "scale": {"domain": ["25","34","44"], "range": ["#7ff2cc","#0a0a80","#f7941d"]}, "legend": null},
      "shape": {"field": "s", "type": "nominal", "scale": {"domain": ["25","34","44"], "range": ["circle","square","triangle-up"]}, "legend": null}
     }},
    {"data": {"name": "lines"}, "transform": [{"filter": "datum.p == 'B'"}],
     "mark": {"type": "line", "strokeWidth": 1.6},
     "encoding": {
      "x": {"field": "x", "type": "quantitative", "scale": {"domain": [1.5, 5.8], "nice": false, "zero": false}, "axis": {"orient": "bottom", "values": [1.6,1.8,2,2.2,2.4,2.6,2.8,3,3.2,3.4,3.6,3.8,4,4.2,4.4,4.6,4.8,5,5.2,5.4,5.6,5.8], "labels": false, "domain": false, "tickSize": 3, "title": null}},
      "y": {"field": "y", "type": "quantitative", "scale": {"domain": [-0.62, 2.06], "nice": false, "zero": false}, "axis": {"orient": "left", "values": [-0.6,-0.4,-0.2,0,0.2,0.4,0.6,0.8,1,1.2,1.4,1.6,1.8,2], "labels": false, "domain": false, "tickSize": 3, "title": "B", "titleAngle": 0, "titleFontSize": 18, "titleFontWeight": "bold", "titleColor": "#000", "titleAlign": "left", "titleBaseline": "alphabetic", "titleX": -33, "titleY": 3}},
      "color": {"field": "s", "type": "nominal", "scale": {"domain": ["25","34","44"], "range": ["#79f0c9","#12127e","#f39322"]}, "legend": null}
     }},
    {"data": {"name": "out"}, "transform": [{"filter": "datum.p == 'B'"}],
     "mark": {"type": "point", "shape": "circle", "filled": false, "stroke": "#e8332a", "strokeWidth": 1.1, "size": 150, "opacity": 1},
     "encoding": {
      "x": {"field": "x", "type": "quantitative", "scale": {"domain": [1.5, 5.8], "nice": false, "zero": false}, "axis": null},
      "y": {"field": "y", "type": "quantitative", "scale": {"domain": [-0.62, 2.06], "nice": false, "zero": false}, "axis": null}
     }},
    {"data": {"name": "lines"}, "transform": [{"filter": "datum.p == 'B'"}],
     "mark": {"type": "point", "filled": true, "opacity": 0, "size": 56},
     "encoding": {
      "x": {"field": "x", "type": "quantitative", "scale": {"domain": [1.5, 5.8], "nice": false, "zero": false}, "axis": null},
      "y": {"field": "y", "type": "quantitative", "scale": {"domain": [-0.62, 2.06], "nice": false, "zero": false}, "axis": null},
      "fill": {"field": "s", "type": "nominal", "scale": {"domain": ["25","34","44"], "range": ["#6fecc4","#0a0a80","#f7941d"]},
       "legend": {"orient": "bottom-right", "offset": 5, "title": null, "padding": 0, "labelFontSize": 13.3, "labelColor": "#111", "symbolSize": 56, "symbolOpacity": 1, "symbolStrokeWidth": 0, "rowPadding": 6.5, "symbolOffset": 7, "labelOffset": 25, "labelLimit": 400,
        "labelExpr": "datum.value == '25' ? '25 Salinity (r² = 0.30**)' : datum.value == '34' ? '34 Salinity (r² = 0.06)' : '44 Salinity (r² = 0.61**)'"}},
      "shape": {"field": "s", "type": "nominal", "scale": {"domain": ["25","34","44"], "range": ["M-3.1,-0.22H-1V0.22H-3.1Z M1,-0.22H3.1V0.22H1Z M-1,0A1,1,0,1,0,1,0A1,1,0,1,0,-1,0Z", "M-3.1,-0.22H-1V0.22H-3.1Z M1,-0.22H3.1V0.22H1Z M-1,-1H1V1H-1Z", "M-3.1,0.08H-0.8V0.52H-3.1Z M0.8,0.08H3.1V0.52H0.8Z M0,-1.05L1.2,1H-1.2Z"]},
       "legend": {"orient": "bottom-right", "offset": 5, "title": null, "padding": 0, "labelFontSize": 13.3, "labelColor": "#111", "symbolSize": 56, "symbolOpacity": 1, "symbolStrokeWidth": 0, "rowPadding": 6.5, "symbolOffset": 7, "labelOffset": 25, "labelLimit": 400,
        "labelExpr": "datum.value == '25' ? '25 Salinity (r² = 0.30**)' : datum.value == '34' ? '34 Salinity (r² = 0.06)' : '44 Salinity (r² = 0.61**)'"}}
     }}
   ]},
  {"width": 350, "height": 208,
   "title": {"text": "RCC 1210", "anchor": "start", "frame": "group", "offset": -22, "dx": 12, "fontSize": 13.5, "fontWeight": "normal", "baseline": "top"},
   "resolve": {"axis": {"x": "independent", "y": "independent"}, "scale": {"fill": "independent", "shape": "independent"}},
   "layer": [
    {"data": {"name": "pts"}, "transform": [{"filter": "datum.p == 'C'"}],
     "mark": {"type": "point", "filled": true, "stroke": "black", "strokeWidth": 0.7, "size": 52, "opacity": 1},
     "encoding": {
      "x": {"field": "x", "type": "quantitative", "scale": {"domain": [1.5, 5.8], "nice": false, "zero": false}, "axis": {"orient": "bottom", "values": [2,3,4,5], "tickSize": 5, "labelPadding": 1, "title": "Length (µm)", "titlePadding": 1}},
      "y": {"field": "y", "type": "quantitative", "scale": {"domain": [-0.62, 2.06], "nice": false, "zero": false}, "axis": {"orient": "left", "values": [0,1,2], "tickSize": 5, "labelPadding": 2, "title": "Skewness", "titleFontSize": 13.5, "titlePadding": 8}},
      "fill": {"field": "s", "type": "nominal", "scale": {"domain": ["25","34","44"], "range": ["#7ff2cc","#0a0a80","#f7941d"]}, "legend": null},
      "shape": {"field": "s", "type": "nominal", "scale": {"domain": ["25","34","44"], "range": ["circle","square","triangle-up"]}, "legend": null}
     }},
    {"data": {"name": "lines"}, "transform": [{"filter": "datum.p == 'C'"}],
     "mark": {"type": "line", "strokeWidth": 1.6},
     "encoding": {
      "x": {"field": "x", "type": "quantitative", "scale": {"domain": [1.5, 5.8], "nice": false, "zero": false}, "axis": {"orient": "bottom", "values": [1.6,1.8,2,2.2,2.4,2.6,2.8,3,3.2,3.4,3.6,3.8,4,4.2,4.4,4.6,4.8,5,5.2,5.4,5.6,5.8], "labels": false, "domain": false, "tickSize": 3, "title": null}},
      "y": {"field": "y", "type": "quantitative", "scale": {"domain": [-0.62, 2.06], "nice": false, "zero": false}, "axis": {"orient": "left", "values": [-0.6,-0.4,-0.2,0,0.2,0.4,0.6,0.8,1,1.2,1.4,1.6,1.8,2], "labels": false, "domain": false, "tickSize": 3, "title": "C", "titleAngle": 0, "titleFontSize": 18, "titleFontWeight": "bold", "titleColor": "#000", "titleAlign": "left", "titleBaseline": "alphabetic", "titleX": -41, "titleY": 3}},
      "color": {"field": "s", "type": "nominal", "scale": {"domain": ["25","34","44"], "range": ["#79f0c9","#12127e","#f39322"]}, "legend": null}
     }},
    {"data": {"name": "lines"}, "transform": [{"filter": "datum.p == 'C'"}],
     "mark": {"type": "point", "filled": true, "opacity": 0, "size": 56},
     "encoding": {
      "x": {"field": "x", "type": "quantitative", "scale": {"domain": [1.5, 5.8], "nice": false, "zero": false}, "axis": null},
      "y": {"field": "y", "type": "quantitative", "scale": {"domain": [-0.62, 2.06], "nice": false, "zero": false}, "axis": null},
      "fill": {"field": "s", "type": "nominal", "scale": {"domain": ["25","34","44"], "range": ["#6fecc4","#0a0a80","#f7941d"]},
       "legend": {"orient": "bottom-right", "offset": 5, "title": null, "padding": 0, "labelFontSize": 13.3, "labelColor": "#111", "symbolSize": 56, "symbolOpacity": 1, "symbolStrokeWidth": 0, "rowPadding": 6.5, "symbolOffset": 7, "labelOffset": 25, "labelLimit": 400,
        "labelExpr": "datum.value == '25' ? '25 Salinity (r² = 0.28**)' : datum.value == '34' ? '34 Salinity (r² = 0.26**)' : '44 Salinity (r² = 0.56**)'"}},
      "shape": {"field": "s", "type": "nominal", "scale": {"domain": ["25","34","44"], "range": ["M-3.1,-0.22H-1V0.22H-3.1Z M1,-0.22H3.1V0.22H1Z M-1,0A1,1,0,1,0,1,0A1,1,0,1,0,-1,0Z", "M-3.1,-0.22H-1V0.22H-3.1Z M1,-0.22H3.1V0.22H1Z M-1,-1H1V1H-1Z", "M-3.1,0.08H-0.8V0.52H-3.1Z M0.8,0.08H3.1V0.52H0.8Z M0,-1.05L1.2,1H-1.2Z"]},
       "legend": {"orient": "bottom-right", "offset": 5, "title": null, "padding": 0, "labelFontSize": 13.3, "labelColor": "#111", "symbolSize": 56, "symbolOpacity": 1, "symbolStrokeWidth": 0, "rowPadding": 6.5, "symbolOffset": 7, "labelOffset": 25, "labelLimit": 400,
        "labelExpr": "datum.value == '25' ? '25 Salinity (r² = 0.28**)' : datum.value == '34' ? '34 Salinity (r² = 0.26**)' : '44 Salinity (r² = 0.56**)'"}}
     }}
   ]},
  {"width": 350, "height": 208,
   "title": {"text": "RCC 1223", "subtitle": "G. oceanica", "subtitleFontStyle": "italic", "subtitleFontSize": 13.5, "subtitleColor": "#111", "subtitlePadding": 1, "anchor": "start", "frame": "group", "offset": -37, "dx": 12, "fontSize": 13.5, "fontWeight": "normal", "baseline": "top"},
   "resolve": {"axis": {"x": "independent", "y": "independent"}, "scale": {"fill": "independent", "shape": "independent"}},
   "layer": [
    {"data": {"name": "pts"}, "transform": [{"filter": "datum.p == 'D'"}],
     "mark": {"type": "point", "filled": true, "stroke": "black", "strokeWidth": 0.7, "size": 52, "opacity": 1},
     "encoding": {
      "x": {"field": "x", "type": "quantitative", "scale": {"domain": [2.8, 7.2], "nice": false, "zero": false}, "axis": {"orient": "bottom", "values": [3,4,5,6,7], "tickSize": 5, "labelPadding": 1, "title": "Length (µm)", "titlePadding": 1}},
      "y": {"field": "y", "type": "quantitative", "scale": {"domain": [-0.62, 2.06], "nice": false, "zero": false}, "axis": {"orient": "left", "values": [0,1,2], "tickSize": 5, "labelPadding": 2, "title": "Skewness", "titleFontSize": 13.5, "titlePadding": 8}},
      "fill": {"field": "s", "type": "nominal", "scale": {"domain": ["25","34","44"], "range": ["#7ff2cc","#0a0a80","#f7941d"]}, "legend": null},
      "shape": {"field": "s", "type": "nominal", "scale": {"domain": ["25","34","44"], "range": ["circle","square","triangle-up"]}, "legend": null}
     }},
    {"data": {"name": "lines"}, "transform": [{"filter": "datum.p == 'D'"}],
     "mark": {"type": "line", "strokeWidth": 1.6},
     "encoding": {
      "x": {"field": "x", "type": "quantitative", "scale": {"domain": [2.8, 7.2], "nice": false, "zero": false}, "axis": {"orient": "bottom", "values": [2.8,3,3.2,3.4,3.6,3.8,4,4.2,4.4,4.6,4.8,5,5.2,5.4,5.6,5.8,6,6.2,6.4,6.6,6.8,7,7.2], "labels": false, "domain": false, "tickSize": 3, "title": null}},
      "y": {"field": "y", "type": "quantitative", "scale": {"domain": [-0.62, 2.06], "nice": false, "zero": false}, "axis": {"orient": "left", "values": [-0.6,-0.4,-0.2,0,0.2,0.4,0.6,0.8,1,1.2,1.4,1.6,1.8,2], "labels": false, "domain": false, "tickSize": 3, "title": "D", "titleAngle": 0, "titleFontSize": 18, "titleFontWeight": "bold", "titleColor": "#000", "titleAlign": "left", "titleBaseline": "alphabetic", "titleX": -33, "titleY": 3}},
      "color": {"field": "s", "type": "nominal", "scale": {"domain": ["25","34","44"], "range": ["#79f0c9","#12127e","#f39322"]}, "legend": null}
     }},
    {"data": {"name": "lines"}, "transform": [{"filter": "datum.p == 'D'"}],
     "mark": {"type": "point", "filled": true, "opacity": 0, "size": 56},
     "encoding": {
      "x": {"field": "x", "type": "quantitative", "scale": {"domain": [2.8, 7.2], "nice": false, "zero": false}, "axis": null},
      "y": {"field": "y", "type": "quantitative", "scale": {"domain": [-0.62, 2.06], "nice": false, "zero": false}, "axis": null},
      "fill": {"field": "s", "type": "nominal", "scale": {"domain": ["25","34","44"], "range": ["#6fecc4","#0a0a80","#f7941d"]},
       "legend": {"orient": "bottom-right", "offset": 5, "title": null, "padding": 0, "labelFontSize": 13.3, "labelColor": "#111", "symbolSize": 56, "symbolOpacity": 1, "symbolStrokeWidth": 0, "rowPadding": 6.5, "symbolOffset": 7, "labelOffset": 25, "labelLimit": 400,
        "labelExpr": "datum.value == '25' ? '25 Salinity (r² = 0.04)' : datum.value == '34' ? '34 Salinity (r² = 0.00)' : '44 Salinity (r² = 0.05)'"}},
      "shape": {"field": "s", "type": "nominal", "scale": {"domain": ["25","34","44"], "range": ["M-3.1,-0.22H-1V0.22H-3.1Z M1,-0.22H3.1V0.22H1Z M-1,0A1,1,0,1,0,1,0A1,1,0,1,0,-1,0Z", "M-3.1,-0.22H-1V0.22H-3.1Z M1,-0.22H3.1V0.22H1Z M-1,-1H1V1H-1Z", "M-3.1,0.08H-0.8V0.52H-3.1Z M0.8,0.08H3.1V0.52H0.8Z M0,-1.05L1.2,1H-1.2Z"]},
       "legend": {"orient": "bottom-right", "offset": 5, "title": null, "padding": 0, "labelFontSize": 13.3, "labelColor": "#111", "symbolSize": 56, "symbolOpacity": 1, "symbolStrokeWidth": 0, "rowPadding": 6.5, "symbolOffset": 7, "labelOffset": 25, "labelLimit": 400,
        "labelExpr": "datum.value == '25' ? '25 Salinity (r² = 0.04)' : datum.value == '34' ? '34 Salinity (r² = 0.00)' : '44 Salinity (r² = 0.05)'"}}
     }}
   ]},
  {"width": 350, "height": 208,
   "title": {"text": "RCC 1232", "anchor": "start", "frame": "group", "offset": -22, "dx": 12, "fontSize": 13.5, "fontWeight": "normal", "baseline": "top"},
   "resolve": {"axis": {"x": "independent", "y": "independent"}, "scale": {"fill": "independent", "shape": "independent"}},
   "layer": [
    {"data": {"name": "pts"}, "transform": [{"filter": "datum.p == 'E'"}],
     "mark": {"type": "point", "filled": true, "stroke": "black", "strokeWidth": 0.7, "size": 52, "opacity": 1},
     "encoding": {
      "x": {"field": "x", "type": "quantitative", "scale": {"domain": [1.5, 5.8], "nice": false, "zero": false}, "axis": {"orient": "bottom", "values": [2,3,4,5], "tickSize": 5, "labelPadding": 1, "title": "Length (µm)", "titlePadding": 1}},
      "y": {"field": "y", "type": "quantitative", "scale": {"domain": [-0.62, 2.06], "nice": false, "zero": false}, "axis": {"orient": "left", "values": [0,1,2], "tickSize": 5, "labelPadding": 2, "title": "Skewness", "titleFontSize": 13.5, "titlePadding": 8}},
      "fill": {"field": "s", "type": "nominal", "scale": {"domain": ["25","34","44"], "range": ["#7ff2cc","#0a0a80","#f7941d"]}, "legend": null},
      "shape": {"field": "s", "type": "nominal", "scale": {"domain": ["25","34","44"], "range": ["circle","square","triangle-up"]}, "legend": null}
     }},
    {"data": {"name": "lines"}, "transform": [{"filter": "datum.p == 'E'"}],
     "mark": {"type": "line", "strokeWidth": 1.6},
     "encoding": {
      "x": {"field": "x", "type": "quantitative", "scale": {"domain": [1.5, 5.8], "nice": false, "zero": false}, "axis": {"orient": "bottom", "values": [1.6,1.8,2,2.2,2.4,2.6,2.8,3,3.2,3.4,3.6,3.8,4,4.2,4.4,4.6,4.8,5,5.2,5.4,5.6,5.8], "labels": false, "domain": false, "tickSize": 3, "title": null}},
      "y": {"field": "y", "type": "quantitative", "scale": {"domain": [-0.62, 2.06], "nice": false, "zero": false}, "axis": {"orient": "left", "values": [-0.6,-0.4,-0.2,0,0.2,0.4,0.6,0.8,1,1.2,1.4,1.6,1.8,2], "labels": false, "domain": false, "tickSize": 3, "title": "E", "titleAngle": 0, "titleFontSize": 18, "titleFontWeight": "bold", "titleColor": "#000", "titleAlign": "left", "titleBaseline": "alphabetic", "titleX": -41, "titleY": 3}},
      "color": {"field": "s", "type": "nominal", "scale": {"domain": ["25","34","44"], "range": ["#79f0c9","#12127e","#f39322"]}, "legend": null}
     }},
    {"data": {"name": "out"}, "transform": [{"filter": "datum.p == 'E'"}],
     "mark": {"type": "point", "shape": "circle", "filled": false, "stroke": "#e8332a", "strokeWidth": 1.1, "size": 150, "opacity": 1},
     "encoding": {
      "x": {"field": "x", "type": "quantitative", "scale": {"domain": [1.5, 5.8], "nice": false, "zero": false}, "axis": null},
      "y": {"field": "y", "type": "quantitative", "scale": {"domain": [-0.62, 2.06], "nice": false, "zero": false}, "axis": null}
     }},
    {"data": {"name": "lines"}, "transform": [{"filter": "datum.p == 'E'"}],
     "mark": {"type": "point", "filled": true, "opacity": 0, "size": 56},
     "encoding": {
      "x": {"field": "x", "type": "quantitative", "scale": {"domain": [1.5, 5.8], "nice": false, "zero": false}, "axis": null},
      "y": {"field": "y", "type": "quantitative", "scale": {"domain": [-0.62, 2.06], "nice": false, "zero": false}, "axis": null},
      "fill": {"field": "s", "type": "nominal", "scale": {"domain": ["25","34","44"], "range": ["#6fecc4","#0a0a80","#f7941d"]},
       "legend": {"orient": "bottom-right", "offset": 5, "title": null, "padding": 0, "labelFontSize": 13.3, "labelColor": "#111", "symbolSize": 56, "symbolOpacity": 1, "symbolStrokeWidth": 0, "rowPadding": 6.5, "symbolOffset": 7, "labelOffset": 25, "labelLimit": 400, "labelFontStyle": {"expr": "datum.value == '34' ? 'italic' : 'normal'"},
        "labelExpr": "datum.value == '25' ? '25 Salinity (r² = 0.30**)' : datum.value == '34' ? '34 Salinity (r² = 0.00)' : '44 Salinity (r² = 0.42**)'"}},
      "shape": {"field": "s", "type": "nominal", "scale": {"domain": ["25","34","44"], "range": ["M-3.1,-0.22H-1V0.22H-3.1Z M1,-0.22H3.1V0.22H1Z M-1,0A1,1,0,1,0,1,0A1,1,0,1,0,-1,0Z", "M-3.1,-0.22H-1V0.22H-3.1Z M1,-0.22H3.1V0.22H1Z M-1,-1H1V1H-1Z", "M-3.1,0.08H-0.8V0.52H-3.1Z M0.8,0.08H3.1V0.52H0.8Z M0,-1.05L1.2,1H-1.2Z"]},
       "legend": {"orient": "bottom-right", "offset": 5, "title": null, "padding": 0, "labelFontSize": 13.3, "labelColor": "#111", "symbolSize": 56, "symbolOpacity": 1, "symbolStrokeWidth": 0, "rowPadding": 6.5, "symbolOffset": 7, "labelOffset": 25, "labelLimit": 400, "labelFontStyle": {"expr": "datum.value == '34' ? 'italic' : 'normal'"},
        "labelExpr": "datum.value == '25' ? '25 Salinity (r² = 0.30**)' : datum.value == '34' ? '34 Salinity (r² = 0.00)' : '44 Salinity (r² = 0.42**)'"}}
     }}
   ]},
  {"width": 350, "height": 208,
   "title": {"text": "RCC 1824", "anchor": "start", "frame": "group", "offset": -22, "dx": 12, "fontSize": 13.5, "fontWeight": "normal", "baseline": "top"},
   "resolve": {"axis": {"x": "independent", "y": "independent"}, "scale": {"fill": "independent", "shape": "independent"}},
   "layer": [
    {"data": {"name": "pts"}, "transform": [{"filter": "datum.p == 'F'"}],
     "mark": {"type": "point", "filled": true, "stroke": "black", "strokeWidth": 0.7, "size": 52, "opacity": 1},
     "encoding": {
      "x": {"field": "x", "type": "quantitative", "scale": {"domain": [1.5, 5.8], "nice": false, "zero": false}, "axis": {"orient": "bottom", "values": [2,3,4,5], "tickSize": 5, "labelPadding": 1, "title": "Length (µm)", "titlePadding": 1}},
      "y": {"field": "y", "type": "quantitative", "scale": {"domain": [-0.62, 2.06], "nice": false, "zero": false}, "axis": {"orient": "left", "values": [0,1,2], "tickSize": 5, "labelPadding": 2, "title": "Skewness", "titleFontSize": 13.5, "titlePadding": 8}},
      "fill": {"field": "s", "type": "nominal", "scale": {"domain": ["25","34","44"], "range": ["#7ff2cc","#0a0a80","#f7941d"]}, "legend": null},
      "shape": {"field": "s", "type": "nominal", "scale": {"domain": ["25","34","44"], "range": ["circle","square","triangle-up"]}, "legend": null}
     }},
    {"data": {"name": "lines"}, "transform": [{"filter": "datum.p == 'F'"}],
     "mark": {"type": "line", "strokeWidth": 1.6},
     "encoding": {
      "x": {"field": "x", "type": "quantitative", "scale": {"domain": [1.5, 5.8], "nice": false, "zero": false}, "axis": {"orient": "bottom", "values": [1.6,1.8,2,2.2,2.4,2.6,2.8,3,3.2,3.4,3.6,3.8,4,4.2,4.4,4.6,4.8,5,5.2,5.4,5.6,5.8], "labels": false, "domain": false, "tickSize": 3, "title": null}},
      "y": {"field": "y", "type": "quantitative", "scale": {"domain": [-0.62, 2.06], "nice": false, "zero": false}, "axis": {"orient": "left", "values": [-0.6,-0.4,-0.2,0,0.2,0.4,0.6,0.8,1,1.2,1.4,1.6,1.8,2], "labels": false, "domain": false, "tickSize": 3, "title": "F", "titleAngle": 0, "titleFontSize": 18, "titleFontWeight": "bold", "titleColor": "#000", "titleAlign": "left", "titleBaseline": "alphabetic", "titleX": -33, "titleY": 3}},
      "color": {"field": "s", "type": "nominal", "scale": {"domain": ["25","34","44"], "range": ["#79f0c9","#12127e","#f39322"]}, "legend": null}
     }},
    {"data": {"name": "lines"}, "transform": [{"filter": "datum.p == 'F'"}],
     "mark": {"type": "point", "filled": true, "opacity": 0, "size": 56},
     "encoding": {
      "x": {"field": "x", "type": "quantitative", "scale": {"domain": [1.5, 5.8], "nice": false, "zero": false}, "axis": null},
      "y": {"field": "y", "type": "quantitative", "scale": {"domain": [-0.62, 2.06], "nice": false, "zero": false}, "axis": null},
      "fill": {"field": "s", "type": "nominal", "scale": {"domain": ["25","34","44"], "range": ["#6fecc4","#0a0a80","#f7941d"]},
       "legend": {"orient": "bottom-right", "offset": 5, "title": null, "padding": 0, "labelFontSize": 13.3, "labelColor": "#111", "symbolSize": 56, "symbolOpacity": 1, "symbolStrokeWidth": 0, "rowPadding": 6.5, "symbolOffset": 7, "labelOffset": 25, "labelLimit": 400,
        "labelExpr": "datum.value == '25' ? '25 Salinity (r² = 0.26**)' : datum.value == '34' ? '34 Salinity (r² = 0.17*)' : '44 Salinity (r² = 0.07)'"}},
      "shape": {"field": "s", "type": "nominal", "scale": {"domain": ["25","34","44"], "range": ["M-3.1,-0.22H-1V0.22H-3.1Z M1,-0.22H3.1V0.22H1Z M-1,0A1,1,0,1,0,1,0A1,1,0,1,0,-1,0Z", "M-3.1,-0.22H-1V0.22H-3.1Z M1,-0.22H3.1V0.22H1Z M-1,-1H1V1H-1Z", "M-3.1,0.08H-0.8V0.52H-3.1Z M0.8,0.08H3.1V0.52H0.8Z M0,-1.05L1.2,1H-1.2Z"]},
       "legend": {"orient": "bottom-right", "offset": 5, "title": null, "padding": 0, "labelFontSize": 13.3, "labelColor": "#111", "symbolSize": 56, "symbolOpacity": 1, "symbolStrokeWidth": 0, "rowPadding": 6.5, "symbolOffset": 7, "labelOffset": 25, "labelLimit": 400,
        "labelExpr": "datum.value == '25' ? '25 Salinity (r² = 0.26**)' : datum.value == '34' ? '34 Salinity (r² = 0.17*)' : '44 Salinity (r² = 0.07)'"}}
     }}
   ]},
  {"width": 350, "height": 208,
   "title": {"text": "RCC 1843", "anchor": "start", "frame": "group", "offset": -22, "dx": 12, "fontSize": 13.5, "fontWeight": "normal", "baseline": "top"},
   "resolve": {"axis": {"x": "independent", "y": "independent"}, "scale": {"fill": "independent", "shape": "independent"}},
   "layer": [
    {"data": {"name": "pts"}, "transform": [{"filter": "datum.p == 'G'"}],
     "mark": {"type": "point", "filled": true, "stroke": "black", "strokeWidth": 0.7, "size": 52, "opacity": 1},
     "encoding": {
      "x": {"field": "x", "type": "quantitative", "scale": {"domain": [1.5, 5.8], "nice": false, "zero": false}, "axis": {"orient": "bottom", "values": [2,3,4,5], "tickSize": 5, "labelPadding": 1, "title": "Length (µm)", "titlePadding": 1}},
      "y": {"field": "y", "type": "quantitative", "scale": {"domain": [-0.62, 2.06], "nice": false, "zero": false}, "axis": {"orient": "left", "values": [0,1,2], "tickSize": 5, "labelPadding": 2, "title": "Skewness", "titleFontSize": 13.5, "titlePadding": 8}},
      "fill": {"field": "s", "type": "nominal", "scale": {"domain": ["25","34","44"], "range": ["#7ff2cc","#0a0a80","#f7941d"]}, "legend": null},
      "shape": {"field": "s", "type": "nominal", "scale": {"domain": ["25","34","44"], "range": ["circle","square","triangle-up"]}, "legend": null}
     }},
    {"data": {"name": "lines"}, "transform": [{"filter": "datum.p == 'G'"}],
     "mark": {"type": "line", "strokeWidth": 1.6},
     "encoding": {
      "x": {"field": "x", "type": "quantitative", "scale": {"domain": [1.5, 5.8], "nice": false, "zero": false}, "axis": {"orient": "bottom", "values": [1.6,1.8,2,2.2,2.4,2.6,2.8,3,3.2,3.4,3.6,3.8,4,4.2,4.4,4.6,4.8,5,5.2,5.4,5.6,5.8], "labels": false, "domain": false, "tickSize": 3, "title": null}},
      "y": {"field": "y", "type": "quantitative", "scale": {"domain": [-0.62, 2.06], "nice": false, "zero": false}, "axis": {"orient": "left", "values": [-0.6,-0.4,-0.2,0,0.2,0.4,0.6,0.8,1,1.2,1.4,1.6,1.8,2], "labels": false, "domain": false, "tickSize": 3, "title": "G", "titleAngle": 0, "titleFontSize": 18, "titleFontWeight": "bold", "titleColor": "#000", "titleAlign": "left", "titleBaseline": "alphabetic", "titleX": -41, "titleY": 3}},
      "color": {"field": "s", "type": "nominal", "scale": {"domain": ["25","34","44"], "range": ["#79f0c9","#12127e","#f39322"]}, "legend": null}
     }},
    {"data": {"name": "lines"}, "transform": [{"filter": "datum.p == 'G'"}],
     "mark": {"type": "point", "filled": true, "opacity": 0, "size": 56},
     "encoding": {
      "x": {"field": "x", "type": "quantitative", "scale": {"domain": [1.5, 5.8], "nice": false, "zero": false}, "axis": null},
      "y": {"field": "y", "type": "quantitative", "scale": {"domain": [-0.62, 2.06], "nice": false, "zero": false}, "axis": null},
      "fill": {"field": "s", "type": "nominal", "scale": {"domain": ["25","34","44"], "range": ["#6fecc4","#0a0a80","#f7941d"]},
       "legend": {"orient": "bottom-right", "offset": 5, "title": null, "padding": 0, "labelFontSize": 13.3, "labelColor": "#111", "symbolSize": 56, "symbolOpacity": 1, "symbolStrokeWidth": 0, "rowPadding": 6.5, "symbolOffset": 7, "labelOffset": 25, "labelLimit": 400,
        "labelExpr": "datum.value == '25' ? '25 Salinity (r² = 0.10)' : datum.value == '34' ? '34 Salinity (r² = 0.04)' : '44 Salinity (r² = 0.34**)'"}},
      "shape": {"field": "s", "type": "nominal", "scale": {"domain": ["25","34","44"], "range": ["M-3.1,-0.22H-1V0.22H-3.1Z M1,-0.22H3.1V0.22H1Z M-1,0A1,1,0,1,0,1,0A1,1,0,1,0,-1,0Z", "M-3.1,-0.22H-1V0.22H-3.1Z M1,-0.22H3.1V0.22H1Z M-1,-1H1V1H-1Z", "M-3.1,0.08H-0.8V0.52H-3.1Z M0.8,0.08H3.1V0.52H0.8Z M0,-1.05L1.2,1H-1.2Z"]},
       "legend": {"orient": "bottom-right", "offset": 5, "title": null, "padding": 0, "labelFontSize": 13.3, "labelColor": "#111", "symbolSize": 56, "symbolOpacity": 1, "symbolStrokeWidth": 0, "rowPadding": 6.5, "symbolOffset": 7, "labelOffset": 25, "labelLimit": 400,
        "labelExpr": "datum.value == '25' ? '25 Salinity (r² = 0.10)' : datum.value == '34' ? '34 Salinity (r² = 0.04)' : '44 Salinity (r² = 0.34**)'"}}
     }}
   ]},
  {"width": 350, "height": 208,
   "title": {"text": "SAG 33.90", "anchor": "start", "frame": "group", "offset": -22, "dx": 12, "fontSize": 13.5, "fontWeight": "normal", "baseline": "top"},
   "resolve": {"axis": {"x": "independent", "y": "independent"}, "scale": {"fill": "independent", "shape": "independent"}},
   "layer": [
    {"data": {"name": "pts"}, "transform": [{"filter": "datum.p == 'H'"}],
     "mark": {"type": "point", "filled": true, "stroke": "black", "strokeWidth": 0.7, "size": 52, "opacity": 1},
     "encoding": {
      "x": {"field": "x", "type": "quantitative", "scale": {"domain": [1.5, 5.8], "nice": false, "zero": false}, "axis": {"orient": "bottom", "values": [2,3,4,5], "tickSize": 5, "labelPadding": 1, "title": "Length (µm)", "titlePadding": 1}},
      "y": {"field": "y", "type": "quantitative", "scale": {"domain": [-0.62, 2.06], "nice": false, "zero": false}, "axis": {"orient": "left", "values": [0,1,2], "tickSize": 5, "labelPadding": 2, "title": "Skewness", "titleFontSize": 13.5, "titlePadding": 8}},
      "fill": {"field": "s", "type": "nominal", "scale": {"domain": ["25","34","44"], "range": ["#7ff2cc","#0a0a80","#f7941d"]}, "legend": null},
      "shape": {"field": "s", "type": "nominal", "scale": {"domain": ["25","34","44"], "range": ["circle","square","triangle-up"]}, "legend": null}
     }},
    {"data": {"name": "lines"}, "transform": [{"filter": "datum.p == 'H'"}],
     "mark": {"type": "line", "strokeWidth": 1.6},
     "encoding": {
      "x": {"field": "x", "type": "quantitative", "scale": {"domain": [1.5, 5.8], "nice": false, "zero": false}, "axis": {"orient": "bottom", "values": [1.6,1.8,2,2.2,2.4,2.6,2.8,3,3.2,3.4,3.6,3.8,4,4.2,4.4,4.6,4.8,5,5.2,5.4,5.6,5.8], "labels": false, "domain": false, "tickSize": 3, "title": null}},
      "y": {"field": "y", "type": "quantitative", "scale": {"domain": [-0.62, 2.06], "nice": false, "zero": false}, "axis": {"orient": "left", "values": [-0.6,-0.4,-0.2,0,0.2,0.4,0.6,0.8,1,1.2,1.4,1.6,1.8,2], "labels": false, "domain": false, "tickSize": 3, "title": "H", "titleAngle": 0, "titleFontSize": 18, "titleFontWeight": "bold", "titleColor": "#000", "titleAlign": "left", "titleBaseline": "alphabetic", "titleX": -33, "titleY": 3}},
      "color": {"field": "s", "type": "nominal", "scale": {"domain": ["25","34","44"], "range": ["#79f0c9","#12127e","#f39322"]}, "legend": null}
     }},
    {"data": {"name": "lines"}, "transform": [{"filter": "datum.p == 'H'"}],
     "mark": {"type": "point", "filled": true, "opacity": 0, "size": 56},
     "encoding": {
      "x": {"field": "x", "type": "quantitative", "scale": {"domain": [1.5, 5.8], "nice": false, "zero": false}, "axis": null},
      "y": {"field": "y", "type": "quantitative", "scale": {"domain": [-0.62, 2.06], "nice": false, "zero": false}, "axis": null},
      "fill": {"field": "s", "type": "nominal", "scale": {"domain": ["25","34","44"], "range": ["#6fecc4","#0a0a80","#f7941d"]},
       "legend": {"orient": "bottom-right", "offset": 5, "title": null, "padding": 0, "labelFontSize": 13.3, "labelColor": "#111", "symbolSize": 56, "symbolOpacity": 1, "symbolStrokeWidth": 0, "rowPadding": 6.5, "symbolOffset": 7, "labelOffset": 25, "labelLimit": 400,
        "labelExpr": "datum.value == '25' ? '25 Salinity (r² = 0.44**)' : datum.value == '34' ? '34 Salinity (r² = 0.71**)' : '44 Salinity (r² = 0.61**)'"}},
      "shape": {"field": "s", "type": "nominal", "scale": {"domain": ["25","34","44"], "range": ["M-3.1,-0.22H-1V0.22H-3.1Z M1,-0.22H3.1V0.22H1Z M-1,0A1,1,0,1,0,1,0A1,1,0,1,0,-1,0Z", "M-3.1,-0.22H-1V0.22H-3.1Z M1,-0.22H3.1V0.22H1Z M-1,-1H1V1H-1Z", "M-3.1,0.08H-0.8V0.52H-3.1Z M0.8,0.08H3.1V0.52H0.8Z M0,-1.05L1.2,1H-1.2Z"]},
       "legend": {"orient": "bottom-right", "offset": 5, "title": null, "padding": 0, "labelFontSize": 13.3, "labelColor": "#111", "symbolSize": 56, "symbolOpacity": 1, "symbolStrokeWidth": 0, "rowPadding": 6.5, "symbolOffset": 7, "labelOffset": 25, "labelLimit": 400,
        "labelExpr": "datum.value == '25' ? '25 Salinity (r² = 0.44**)' : datum.value == '34' ? '34 Salinity (r² = 0.71**)' : '44 Salinity (r² = 0.61**)'"}}
     }}
   ]}
]
}
